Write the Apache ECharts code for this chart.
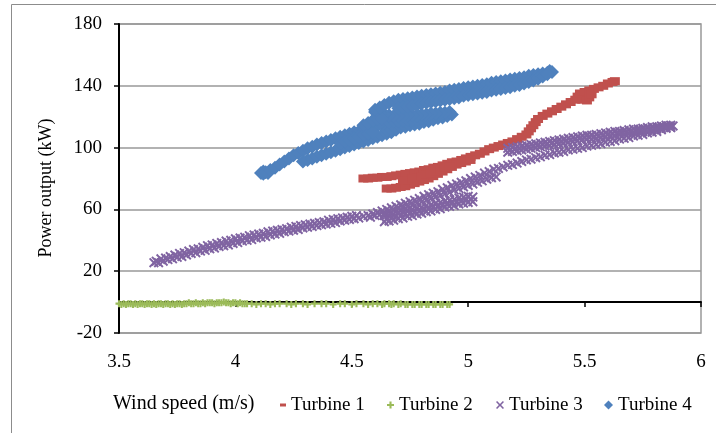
<!DOCTYPE html>
<html>
<head>
<meta charset="utf-8">
<script src="https://cdn.jsdelivr.net/npm/echarts@6/dist/echarts.min.js"></script>
<style>html,body{margin:0;padding:0;background:#fff}#chart{width:716px;height:433px}</style>
</head>
<body>
<div id="chart"></div>
<script>
// wind speed (m/s) vs power output (kW)
const seriesNames = ['Turbine 1', 'Turbine 2', 'Turbine 3', 'Turbine 4']
const xLimits = [3.5, 6, 0.5]
const yLimits = [-20, 180, 40]

const turbine1 = [
  [4.55,80.0],[4.57,80.0],[4.59,80.5],[4.61,80.5],[4.63,81.0],[4.65,81.0],[4.67,81.5],[4.69,82.0],[4.71,82.5],[4.73,83.0],
  [4.75,83.5],[4.77,84.0],[4.79,84.5],[4.81,85.5],[4.83,86.0],[4.85,87.0],[4.87,87.5],[4.89,88.5],[4.91,89.5],[4.93,90.5],
  [4.95,91.0],[4.97,92.0],[4.99,93.0],[5.01,94.0],[5.03,95.0],[5.05,96.0],[5.07,97.5],[5.09,99.0],[5.11,100.0],[5.13,101.0],
  [5.15,102.0],[5.17,103.0],[5.19,104.0],[5.21,105.5],[5.23,107.0],[5.25,108.5],[5.26,110.5],[5.27,112.5],[5.28,114.5],[5.29,116.5],
  [5.30,118.5],[5.32,120.5],[5.34,122.0],[5.36,123.5],[5.38,125.0],[5.40,126.5],[5.42,128.0],[5.44,129.5],[5.46,131.0],[5.47,133.0],
  [5.48,135.0],[5.50,136.0],[5.52,137.0],[5.54,138.0],[5.56,139.0],[5.58,140.0],[5.60,141.5],[5.62,142.5],[5.63,143.0],
  [5.49,131.0],[5.51,130.5],[5.52,132.5],[5.53,134.5],
  [4.65,73.5],[4.67,73.5],[4.69,74.0],[4.71,74.5],[4.73,75.0],[4.75,76.0],[4.77,77.0],[4.79,78.0],[4.81,79.0],[4.83,80.0],
  [4.85,81.5],[4.87,83.0],[4.89,84.5],[4.91,86.0],[4.93,87.5],[4.95,89.0],[4.97,90.0],[4.99,91.0],[5.01,92.0],
  [4.72,78.5],[4.74,79.0],[4.76,80.0],[4.78,80.5],[4.80,81.5],[4.82,82.5],[4.84,83.5],[4.86,84.5],[4.88,85.5],[4.90,87.0],[4.92,88.0]
]

const turbine2 = [
  [3.50,-1.0],[3.51,-1.5],[3.52,-1.0],[3.53,-1.5],[3.54,-1.0],[3.55,-1.0],[3.56,-1.5],[3.57,-1.0],[3.58,-1.5],[3.59,-1.0],
  [3.60,-1.0],[3.61,-1.5],[3.62,-1.0],[3.63,-1.0],[3.64,-1.5],[3.65,-1.0],[3.66,-1.5],[3.67,-1.0],[3.68,-1.0],[3.69,-1.5],
  [3.70,-1.0],[3.71,-1.0],[3.72,-1.5],[3.73,-1.0],[3.74,-1.5],[3.75,-1.0],[3.76,-1.0],[3.77,-1.5],[3.78,-1.0],[3.79,-1.0],
  [3.80,-0.5],[3.81,-1.0],[3.82,-1.0],[3.83,-0.5],[3.84,-1.0],[3.85,-1.0],[3.86,-0.5],[3.87,-1.0],[3.88,-0.5],[3.89,-0.5],
  [3.90,-0.5],[3.91,-1.0],[3.92,-0.5],[3.93,-0.5],[3.94,-0.5],[3.95,0.0],[3.96,-0.5],[3.97,-0.5],[3.98,-1.0],[3.99,-0.5],
  [4.00,-0.5],[4.01,-1.0],[4.02,-0.5],[4.03,-1.0],[4.04,-1.0],[4.05,-1.0],
  [4.07,-1.0],[4.09,-1.5],[4.11,-1.0],[4.13,-1.0],[4.15,-1.5],[4.17,-1.0],[4.19,-1.0],[4.22,-1.0],[4.24,-1.5],[4.26,-1.0],
  [4.29,-1.0],[4.31,-1.5],[4.34,-1.0],[4.37,-1.0],[4.39,-1.0],[4.42,-1.5],[4.45,-1.0],[4.47,-1.0],[4.50,-1.5],[4.52,-1.0],
  [4.55,-1.0],[4.57,-1.5],[4.59,-1.0],[4.61,-1.0],[4.63,-1.5],[4.64,-1.0],
  [4.66,-1.0],[4.67,-1.5],[4.68,-1.0],[4.70,-1.5],[4.71,-1.0],[4.73,-1.5],[4.74,-1.5],[4.76,-1.5],[4.77,-1.5],[4.79,-1.5],
  [4.80,-1.5],[4.82,-1.5],[4.83,-1.5],[4.85,-1.5],[4.86,-1.5],[4.88,-1.5],[4.89,-1.5],[4.91,-1.5],[4.92,-1.5]
]

const turbine3 = [
  [3.65,25.5],[3.66,26.5],[3.67,25.5],[3.69,26.5],[3.71,27.5],[3.73,28.0],[3.75,29.0],[3.77,29.5],[3.79,30.5],[3.81,31.5],
  [3.83,32.0],[3.85,33.0],[3.87,33.5],[3.89,34.5],[3.91,35.0],[3.93,36.0],[3.95,36.5],[3.97,37.0],[3.99,38.0],[4.01,38.5],
  [4.03,39.5],[4.05,40.0],[4.07,40.5],[4.09,41.5],[4.11,42.0],[4.13,42.5],[4.15,43.5],[4.17,44.0],[4.19,44.5],[4.21,45.5],
  [4.23,46.0],[4.25,46.5],[4.27,47.0],[4.29,48.0],[4.31,48.5],[4.33,49.0],[4.35,49.5],[4.37,50.0],[4.39,50.5],[4.41,51.0],
  [4.43,51.5],[4.45,52.5],[4.47,53.0],[4.49,53.5],[4.51,54.0],[4.53,54.5],[4.55,55.5],[4.57,56.0],[4.59,57.0],[4.61,58.0],
  [4.63,59.0],[4.65,60.0],[4.67,61.0],[4.69,62.0],[4.71,63.0],[4.73,64.0],[4.75,65.0],[4.77,66.0],[4.79,67.0],[4.81,68.5],
  [4.83,69.5],[4.85,70.5],[4.87,71.5],[4.89,73.0],[4.91,74.0],[4.93,75.5],[4.95,76.5],[4.97,77.5],[4.99,78.5],[5.01,80.0],
  [5.03,81.0],[5.05,82.0],[5.07,83.5],[5.09,84.5],[5.11,86.0],[5.13,86.5],[5.15,87.5],[5.17,88.5],[5.19,89.0],[5.21,90.0],
  [5.23,91.0],[5.25,92.0],[5.27,92.5],[5.29,93.5],[5.31,94.0],[5.33,95.0],[5.35,95.5],[5.37,96.5],[5.39,97.0],[5.41,97.5],
  [5.43,98.5],[5.45,99.0],[5.47,99.5],[5.49,100.0],[5.51,101.0],[5.53,101.5],[5.55,102.0],[5.57,102.5],[5.59,103.5],[5.61,104.0],
  [5.63,104.5],[5.65,105.5],[5.67,106.0],[5.69,106.5],[5.71,107.5],[5.73,108.0],[5.75,108.5],[5.77,109.5],[5.79,110.0],[5.81,110.5],
  [5.83,111.5],[5.85,112.5],[5.87,113.0],
  [3.68,28.0],[3.70,28.5],[3.72,29.5],[3.74,30.5],[3.76,31.5],[3.78,32.0],[3.80,33.0],[3.82,34.0],[3.84,34.5],[3.86,35.5],
  [3.88,36.5],[3.90,37.0],[3.92,38.0],[3.94,38.5],[3.96,39.5],[3.98,40.0],[4.00,41.0],[4.02,41.5],[4.04,42.0],[4.06,43.0],
  [4.08,43.5],[4.10,44.0],[4.12,44.5],[4.14,45.5],[4.16,46.0],[4.18,46.5],[4.20,47.0],[4.22,47.5],[4.24,48.5],[4.26,49.0],
  [4.28,49.5],[4.30,50.0],[4.32,50.5],[4.34,51.0],[4.36,51.5],[4.38,52.0],[4.40,53.0],[4.42,53.5],[4.44,54.0],[4.46,54.5],
  [4.48,55.0],[4.50,55.5],[4.52,56.0],
  [4.58,55.0],[4.60,56.0],[4.62,56.5],[4.64,57.5],[4.66,58.5],[4.68,59.5],[4.70,60.5],[4.72,61.0],[4.74,62.0],[4.76,63.0],
  [4.78,64.0],[4.80,65.0],[4.82,66.0],[4.84,67.0],[4.86,68.0],[4.88,69.0],[4.90,70.0],[4.92,71.0],[4.94,72.5],[4.96,73.5],
  [4.98,74.5],[5.00,75.5],[5.02,76.5],[5.04,77.5],[5.06,78.5],[5.08,79.5],[5.10,80.5],[5.12,81.0],
  [4.64,56.0],[4.66,56.5],[4.68,57.0],[4.70,58.0],[4.72,58.5],[4.74,59.5],[4.76,60.0],[4.78,61.0],[4.80,61.5],[4.82,62.5],
  [4.84,63.0],[4.86,64.0],[4.88,64.5],[4.90,65.5],[4.92,66.0],[4.94,66.5],[4.96,67.5],[4.98,68.0],[5.00,68.5],[5.02,68.0],
  [4.65,54.0],[4.67,54.5],[4.69,55.5],[4.71,56.0],[4.73,57.0],[4.75,57.5],[4.77,58.5],[4.79,59.0],[4.81,60.0],[4.83,60.5],
  [4.85,61.5],[4.87,62.0],[4.89,63.0],[4.91,63.5],[4.93,64.5],[4.95,65.0],[4.97,65.5],[4.99,66.5],[5.01,66.5],
  [4.64,52.0],[4.66,52.5],[4.68,53.0],[4.70,54.0],[4.72,54.5],[4.74,55.5],[4.76,56.0],[4.78,57.0],[4.80,57.5],[4.82,58.5],
  [4.84,59.0],[4.86,60.0],[4.88,60.5],[4.90,61.5],[4.92,62.0],[4.94,62.5],[4.96,63.5],[4.98,64.0],[5.00,64.5],[5.02,65.0],
  [5.17,99.5],[5.19,100.0],[5.21,100.5],[5.23,101.0],[5.25,101.5],[5.27,102.0],[5.29,102.5],[5.31,103.0],[5.33,103.5],[5.35,104.0],
  [5.37,104.5],[5.39,105.0],[5.41,105.5],[5.43,106.0],[5.45,106.5],[5.47,107.0],[5.49,107.5],[5.51,108.0],[5.53,108.0],[5.55,108.5],
  [5.57,109.0],[5.59,109.5],[5.61,110.0],[5.63,110.5],[5.65,110.5],[5.67,111.0],[5.69,111.5],[5.71,112.0],[5.73,112.0],[5.75,112.5],
  [5.77,113.0],[5.79,113.5],[5.81,113.5],[5.83,114.0],[5.85,114.5],[5.87,114.5],[5.88,114.0],
  [5.18,98.5],[5.20,99.0],[5.22,99.5],[5.24,100.0],[5.26,100.5],[5.28,101.0],[5.30,101.5],[5.32,102.0],[5.34,102.5],[5.36,103.0],
  [5.38,103.5],[5.40,104.0],[5.42,104.5],[5.44,105.0],[5.46,105.5],[5.48,106.0],[5.50,106.5],[5.52,107.0],[5.54,107.0],[5.56,107.5],
  [5.58,108.0],[5.60,108.5],[5.62,109.0],[5.64,109.5],[5.66,110.0],[5.68,110.0],[5.70,110.5],[5.72,111.0],[5.74,111.5],[5.76,112.0],
  [5.78,112.0],[5.80,112.5],[5.82,113.0],[5.84,113.5],[5.86,114.0],
  [5.17,97.0],[5.19,97.5],[5.21,98.0],[5.23,98.5],[5.25,99.0],[5.27,99.5],[5.29,100.0],[5.31,100.5],[5.33,101.0],[5.35,101.5],
  [5.37,102.0],[5.39,102.5],[5.41,103.0],[5.43,103.5],[5.45,104.0],[5.47,104.5],[5.49,105.0],[5.51,105.5],[5.53,105.5],[5.55,106.0],
  [5.57,106.5],[5.59,107.0],[5.61,107.5],[5.63,108.0],[5.65,108.5],[5.67,109.0],[5.69,109.5],[5.71,110.0],[5.73,110.5],[5.75,110.5],
  [5.77,111.0],[5.79,111.5],[5.81,112.0],[5.83,112.5],[5.85,113.0],[5.87,113.0]
]

const turbine4 = [
  [4.11,83.5],[4.12,83.0],[4.12,84.5],[4.13,84.0],[4.14,83.5],[4.15,85.5],[4.17,87.0],[4.19,89.0],[4.21,91.0],[4.23,93.0],
  [4.25,95.0],[4.27,96.5],[4.29,98.0],[4.31,99.5],[4.33,100.5],[4.35,102.0],[4.37,103.0],[4.39,104.0],[4.41,105.0],[4.43,106.0],
  [4.45,107.0],[4.47,108.0],[4.49,109.0],[4.51,110.0],[4.53,110.5],[4.55,111.5],[4.57,112.0],[4.59,113.0],[4.61,114.0],[4.63,115.0],
  [4.29,91.0],[4.31,92.0],[4.33,93.0],[4.35,94.0],[4.37,95.0],[4.39,96.0],[4.41,97.0],[4.43,98.0],[4.45,99.0],[4.47,100.0],
  [4.49,101.0],[4.51,102.0],[4.53,103.0],[4.55,104.0],[4.57,105.0],[4.59,106.0],[4.61,107.0],[4.63,108.0],[4.65,109.0],[4.67,110.0],[4.69,111.5],
  [4.45,103.0],[4.47,104.0],[4.49,105.0],[4.51,106.0],[4.53,107.0],[4.55,108.0],[4.57,109.0],[4.59,110.0],
  [4.65,111.0],[4.67,111.5],[4.69,112.5],[4.71,113.0],[4.73,113.5],[4.75,114.5],[4.77,115.0],[4.79,115.5],[4.81,116.5],[4.83,117.0],
  [4.85,118.0],[4.87,119.0],[4.89,119.5],[4.91,120.5],[4.93,121.5],
  [4.66,116.5],[4.68,117.0],[4.70,117.0],[4.72,117.5],[4.74,118.0],[4.76,118.0],[4.78,118.5],[4.80,119.0],[4.82,119.5],[4.84,120.0],
  [4.86,120.5],[4.88,121.0],
  [4.92,123.0],[4.90,122.5],[4.88,122.5],[4.86,122.0],[4.84,122.0],[4.82,121.5],[4.80,121.5],[4.78,121.0],[4.76,121.0],[4.74,121.0],
  [4.72,120.5],[4.70,120.5],[4.68,120.5],[4.66,121.0],[4.64,121.5],[4.62,122.0],[4.60,123.0],
  [4.55,114.5],[4.57,116.0],[4.59,117.5],[4.61,118.5],[4.63,119.0],
  [4.60,124.5],[4.62,126.0],[4.64,127.5],[4.66,129.0],[4.68,130.0],[4.70,131.0],[4.72,131.5],[4.74,132.0],[4.76,132.5],[4.78,133.0],
  [4.80,133.5],[4.82,134.0],[4.84,134.5],[4.86,135.0],[4.88,135.5],[4.90,136.0],[4.92,137.0],[4.94,137.5],[4.96,138.0],[4.98,138.5],
  [5.00,139.0],[5.02,139.5],[5.04,140.0],[5.06,140.5],[5.08,141.0],[5.10,142.0],[5.12,142.5],[5.14,143.0],[5.16,143.5],[5.18,144.0],
  [5.20,144.5],[5.22,145.0],[5.24,145.5],[5.26,146.5],[5.28,147.0],[5.30,147.5],[5.32,148.0],[5.34,148.5],[5.35,149.5],[5.36,149.0],
  [4.70,125.5],[4.72,126.0],[4.74,126.5],[4.76,127.0],[4.78,127.5],[4.80,128.5],[4.82,129.0],[4.84,129.5],[4.86,130.0],[4.88,130.5],
  [4.90,131.0],[4.92,131.5],[4.94,132.0],[4.96,132.5],[4.98,133.5],[5.00,134.0],[5.02,134.5],[5.04,135.0],[5.06,135.5],[5.08,136.0],
  [5.10,137.0],[5.12,137.5],[5.14,138.0],[5.16,138.5],[5.18,139.0],[5.20,140.0],[5.22,140.5],[5.24,141.5],[5.26,142.5],[5.28,143.5],
  [5.30,144.5],[5.32,146.0],[5.34,147.5]
]

const serif = '"Liberation Serif", "Times New Roman", serif'
const colors = ['#C0504D', '#9BBB59', '#8064A2', '#4F81BD']
const plusPath = 'path://M3.5,0H6.5V3.5H10V6.5H6.5V10H3.5V6.5H0V3.5H3.5Z'
const crossPath = 'path://M0,1.4L1.4,0L5,3.6L8.6,0L10,1.4L6.4,5L10,8.6L8.6,10L5,6.4L1.4,10L0,8.6L3.6,5Z'

function legendAt (name, left, icon, w, h) {
  return {
    data: [{ name: name, icon: icon }],
    left: left,
    top: 395,
    padding: 0,
    itemWidth: w,
    itemHeight: h,
    selectedMode: false,
    textStyle: { fontFamily: serif, fontSize: 19, color: '#000', lineHeight: 20 }
  }
}

const chart = echarts.init(document.getElementById('chart'))
chart.setOption({
  animation: false,
  backgroundColor: '#fff',
  grid: { left: 119, right: 15, top: 24, bottom: 100, show: true, borderColor: '#999', borderWidth: 1.5 },
  xAxis: {
    type: 'value',
    min: xLimits[0],
    max: xLimits[1],
    interval: xLimits[2],
    axisLine: { lineStyle: { color: '#000', width: 2 } },
    axisTick: { show: true, length: 5, lineStyle: { color: '#000', width: 1.5 } },
    axisLabel: { fontFamily: serif, fontSize: 19, color: '#000', margin: 20 },
    splitLine: { show: false }
  },
  yAxis: {
    type: 'value',
    min: yLimits[0],
    max: yLimits[1],
    interval: yLimits[2],
    axisLine: { show: true, lineStyle: { color: '#000', width: 2 } },
    axisTick: { show: true, length: 5, lineStyle: { color: '#000', width: 1.5 } },
    axisLabel: { fontFamily: serif, fontSize: 19, color: '#000', margin: 17 },
    splitLine: { lineStyle: { color: '#999', width: 1.5 } }
  },
  legend: [
    legendAt(seriesNames[0], 280, 'rect', 6, 3),
    legendAt(seriesNames[1], 387, plusPath, 7, 7),
    legendAt(seriesNames[2], 496, crossPath, 8, 8),
    legendAt(seriesNames[3], 604, 'diamond', 9, 9)
  ],
  graphic: [
    { type: 'rect', z: -10, silent: true, shape: { x: 11.5, y: 4.5, width: 720, height: 440 }, style: { fill: 'none', stroke: '#8c8c8c', lineWidth: 1 } },
    { type: 'text', left: 113, top: 394, style: { text: 'Wind speed (m/s)', font: '20px ' + serif, fill: '#000' } },
    { type: 'text', x: 46, y: 188, rotation: Math.PI / 2, style: { text: 'Power output (kW)', font: '18px ' + serif, fill: '#000', align: 'center', verticalAlign: 'middle' } }
  ],
  series: [
    { name: seriesNames[0], type: 'scatter', data: turbine1, symbol: 'rect', symbolSize: [10, 8], itemStyle: { color: colors[0], opacity: 1 } },
    { name: seriesNames[1], type: 'scatter', data: turbine2, symbol: plusPath, symbolSize: 7, itemStyle: { color: colors[1], opacity: 1 } },
    { name: seriesNames[2], type: 'scatter', data: turbine3, symbol: crossPath, symbolSize: 10, itemStyle: { color: colors[2], opacity: 1 } },
    { name: seriesNames[3], type: 'scatter', data: turbine4, symbol: 'diamond', symbolSize: 14, itemStyle: { color: colors[3], opacity: 1 } }
  ]
})
</script>
</body>
</html>
